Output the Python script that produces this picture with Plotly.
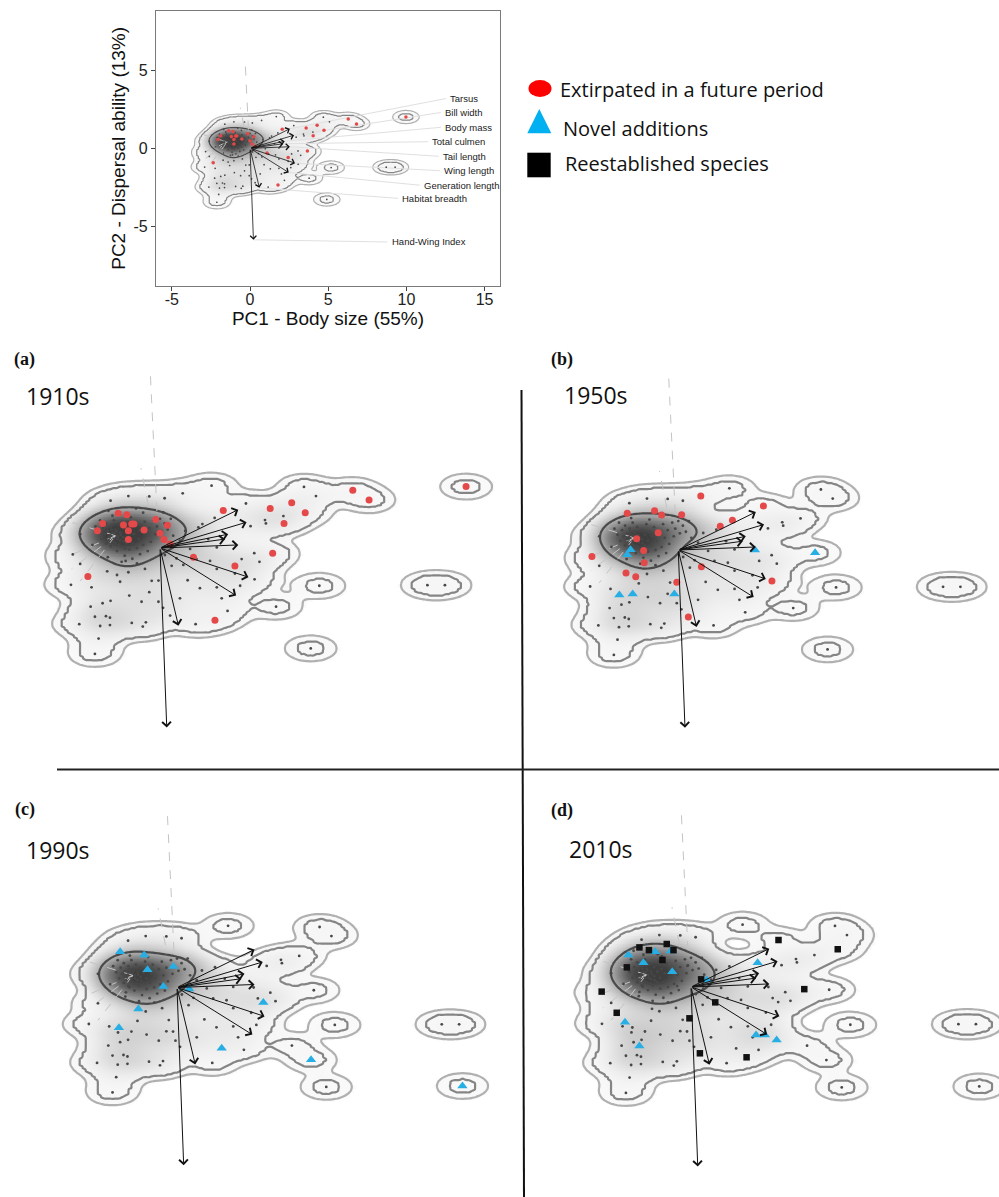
import numpy as np
import plotly.graph_objects as go

W, H = 999, 1197

# ---------------- DATA (PC1 = body size, PC2 = dispersal ability) ----------------
# dense core of species present in every decade
core_x = [-2.1,-2.0,-1.95,-1.9,-1.85,-1.8,-1.75,-1.75,-1.7,-1.65,-1.6,-1.6,-1.55,-1.5,-1.5,-1.45,-1.45,-1.4,-1.4,-1.35,
          -1.3,-1.3,-1.25,-1.2,-1.2,-1.15,-1.1,-1.1,-1.05,-1.0,-1.0,-0.95,-0.9,-0.9,-0.85,-0.8,-0.75,-0.7,-0.65,-0.6,
          -0.55,-0.5,-0.45,-0.4,-0.35,-0.3,-0.2,-0.15,-0.1,0.0,0.05,0.15,0.25,0.35,-1.7,-1.25,-0.75,-2.2,-1.55,-0.95,
          -1.62,-1.48,-1.38,-1.52,-1.28,-1.42,-1.58,-1.33,-1.68,-1.18]
core_y = [0.7,0.5,0.9,0.3,0.65,0.45,0.8,0.15,0.55,0.35,0.7,0.05,0.5,0.3,0.9,0.15,0.6,0.4,-0.1,0.75,
          0.25,0.5,0.05,0.65,0.35,-0.25,0.15,0.5,0.85,0.3,-0.05,0.6,-0.35,0.15,0.45,0.75,0.0,0.3,-0.2,0.6,
          0.1,0.85,0.4,-0.1,0.65,0.2,0.9,0.45,0.7,0.95,0.55,0.8,0.6,0.95,-0.3,-0.45,-0.5,0.1,1.05,1.0,
          0.42,0.48,0.3,0.2,0.42,0.55,0.6,0.12,0.25,0.22]
# peripheral species present in every decade
periph_x = [1.68,-1.03,-1.61,4.69,5.08,4.02,3.42,3.45,2.95,0.82,1.25,3.07,3.24,2.01,1.30,0.65,1.16,-0.27,-0.56,-1.30,
            -2.60,-2.63,-2.26,-2.12,-1.95,-1.76,-1.63,-1.63,-1.87,-2.12,1.63,2.44,0.16,0.54,1.19,0.38,1.85,2.66,2.61,1.85,
            -0.35,-2.23,-0.92,-0.46,-1.03,-0.49,5.19,3.78,4.91,8.71,9.28,-1.61,
            0.43,0.65,1.57,1.85,0.98,0.90,-0.05,-0.60,-1.00,0.10,2.20,-0.35,0.15,-2.90,-2.60,-2.00]
periph_y = [2.03,1.69,1.54,1.99,1.69,1.04,0.91,0.80,0.71,0.56,0.67,-0.17,-0.45,-1.64,-1.31,-1.64,-2.48,-1.07,-2.56,-1.10,
            -0.52,-2.48,-1.91,-2.24,-2.54,-2.22,-2.27,-2.51,-1.80,-3.45,-0.42,-0.83,-0.23,-0.34,-0.36,-0.58,-0.68,-0.36,-1.23,-1.28,
            -1.44,-1.28,-2.44,-2.42,-0.79,-0.68,-1.23,-1.91,-3.27,-1.21,-1.21,-1.72,
            0.40,0.24,0.29,0.02,-0.03,-1.05,-1.75,-1.75,-1.55,-1.95,-2.05,1.68,1.62,-1.20,0.45,-2.95]
# 1910s species extirpated before the 1950s
red1910_x = [6.28,6.81,3.59,4.29,4.73,4.04,2.06,3.67,2.44,1.09,1.79,-2.35,9.97,-1.36,-1.08,-1.87,-2.04,-1.19,-0.92,-0.85,
             -1.03,-1.03,-0.52,-0.14,0.24,0.0,0.13,0.33]
red1910_y = [1.88,1.56,1.29,1.47,1.15,0.80,1.22,-0.17,-0.59,-0.30,-2.35,-0.93,2.00,1.13,1.08,0.80,0.56,0.75,0.78,0.78,
             0.56,0.28,0.59,0.93,0.74,0.48,0.28,0.13]
# present until the 1950s, extirpated before the 1990s
red1950_x = [0.74,2.80,1.78,1.38,3.08,0.76,-0.05,0.33,-2.84,-1.68,-0.78,-0.55,0.11,-0.66,-1.37,-1.14,-1.12,-1.72,-1.40]
red1950_y = [1.78,1.45,0.98,0.78,-1.02,-0.55,-1.06,-2.20,-0.21,1.21,1.29,1.15,1.16,0.57,0.37,-0.02,-0.42,-0.76,-0.88]
# novel additions
blue1950_x = [-1.57,-1.68,-1.94,-1.50,-0.13,2.52,4.50]
blue1950_y = [0.01,-0.16,-1.48,-1.45,-1.45,0.00,-0.09]
blue1990_x = [-1.87,-1.08,-0.97,-0.12,-0.45,0.40,-1.27,-1.91,2.84,1.47,4.41,9.39]
blue1990_y = [1.18,1.07,0.58,0.69,0.03,-0.05,-0.71,-1.32,-0.49,-2.00,-2.38,-3.24]
blue2010_x = [-2.04,-1.17,-0.66,-1.55,-0.61,0.51,2.17,-2.15,-1.68,2.12,2.41,2.79]
blue2010_y = [1.04,1.15,1.17,0.79,0.50,0.23,0.79,-1.15,-1.92,-1.56,-1.56,-1.73]
# reestablished species in the 2010s
black2010_x = [2.85,4.78,3.69,0.79,-0.05,0.29,1.81,-2.91,-2.42,-2.09,-1.68,-1.37,-0.79,-0.93,-0.57,0.33]
black2010_y = [1.53,1.23,-0.07,-0.50,-1.02,-2.16,-2.29,-0.15,-0.84,0.64,1.29,1.20,1.40,0.88,1.20,0.25]

# trait loadings (arrow tips)
trait_names = ["Tarsus", "Bill width", "Body mass", "Total culmen", "Tail length", "Wing length",
               "Generation length", "Habitat breadth", "Hand-Wing Index"]
trait_x = [2.55, 2.82, 2.22, 2.12, 2.55, 2.88, 2.48, 0.60, 0.22]
trait_y = [1.25, 0.84, 0.45, 0.29, 0.10, -0.95, -1.55, -2.53, -5.85]
label_x = [12.67, 12.35, 12.35, 11.54, 12.22, 12.29, 11.01, 9.62, 8.93]
label_y = [3.18, 2.29, 1.34, 0.42, -0.51, -1.43, -2.36, -3.20, -5.99]
# faint dashed supplementary vectors
faint_x0 = [-0.10, -0.38, -1.45, -1.45, -1.45, -1.45]
faint_y0 = [1.20, 1.40, 0.40, 0.40, 0.40, 0.40]
faint_x1 = [-0.32, -0.62, -2.95, -2.84, -2.88, -2.60]
faint_y1 = [5.78, 2.60, 0.86, -0.20, -0.68, -1.08]

decades = ["1910s", "1950s", "1990s", "2010s"]
panel_tags = ["(a)", "(b)", "(c)", "(d)"]
legend_labels = ["Extirpated in a future period", "Novel additions", "Reestablished species"]
x_tick_vals = [-5, 0, 5, 10, 15]
y_tick_vals = [-5, 0, 5]
x_title = "PC1 - Body size (55%)"
y_title = "PC2 - Dispersal ability (13%)"

# ---------------- species sets per decade ----------------
def cat(*lists):
    out = []
    for l in lists:
        out += list(l)
    return out

sets = {
    "1910s": dict(gx=cat(core_x, periph_x, red1950_x, red1910_x), gy=cat(core_y, periph_y, red1950_y, red1910_y),
                  red=(red1910_x, red1910_y), blue=([], []), black=([], [])),
    "1950s": dict(gx=cat(core_x, periph_x, red1950_x, blue1950_x), gy=cat(core_y, periph_y, red1950_y, blue1950_y),
                  red=(red1950_x, red1950_y), blue=(blue1950_x, blue1950_y), black=([], [])),
    "1990s": dict(gx=cat(core_x, periph_x, blue1950_x, blue1990_x), gy=cat(core_y, periph_y, blue1950_y, blue1990_y),
                  red=([], []), blue=(blue1990_x, blue1990_y), black=([], [])),
    "2010s": dict(gx=cat(core_x, periph_x, blue1950_x, blue1990_x, blue2010_x, black2010_x),
                  gy=cat(core_y, periph_y, blue1950_y, blue1990_y, blue2010_y, black2010_y),
                  red=([], []), blue=(blue2010_x, blue2010_y), black=(black2010_x, black2010_y)),
}

# ---------------- density estimation ----------------
gxv = np.arange(-4.6, 11.6, 0.1)
gyv = np.arange(-4.4, 3.25, 0.05)
GX, GY = np.meshgrid(gxv, gyv)

def kde(xs, ys, hx, hy):
    d = np.zeros_like(GX)
    for a, b in zip(xs, ys):
        d += np.exp(-0.5 * ((GX - a) / hx) ** 2 - 0.5 * ((GY - b) / hy) ** 2)
    return d

HX, HY = 0.5, 0.25
L1, L2 = 0.236, 0.63
L3W = 9.0
SHADE_MAX = 38.0
shade_anchor_v = [-0.5, 0.0, 2.0, 4.0, 7.0, 12.0, 20.0, 28.0, 38.0]
shade_anchor_c = ['#ffffff', '#fbfbfb', '#f5f5f5', '#ebebeb', '#d6d6d6', '#b3b3b3', '#848484', '#5c5c5c', '#3e3e3e']
shade_cs = [[(v + 0.5) / (SHADE_MAX + 0.5), c] for v, c in zip(shade_anchor_v, shade_anchor_c)]

fig = go.Figure()

# panel geometry: (left, top, right, bottom) in px, origin px, px per unit
panels = [
    dict(ax=1, box=(156, 10.7, 500, 286), origin=(250, 148.3), s=15.64, dec="1910s", top=True),
    dict(ax=2, box=(0, 360, 500, 765), origin=(160, 548), s=30.7, dec="1910s", top=False),
    dict(ax=3, box=(525, 360, 999, 765), origin=(678.3, 550), s=30.4, dec="1950s", top=False),
    dict(ax=4, box=(0, 775, 519, 1197), origin=(177, 987.5), s=30.4, dec="1990s", top=False),
    dict(ax=5, box=(527, 775, 999, 1197), origin=(691, 987), s=30.7, dec="2010s", top=False),
]

annotations = []
shapes = []
layout_axes = {}

for p in panels:
    i = p["ax"]
    xa = "x" if i == 1 else f"x{i}"
    ya = "y" if i == 1 else f"y{i}"
    xname = "xaxis" if i == 1 else f"xaxis{i}"
    yname = "yaxis" if i == 1 else f"yaxis{i}"
    l, t, r, b = p["box"]
    ox, oy = p["origin"]
    s = p["s"]
    xr = [(l - ox) / s, (r - ox) / s]
    yr = [(oy - b) / s, (oy - t) / s]
    dom_x = [l / W, r / W]
    dom_y = [1 - b / H, 1 - t / H]
    k = 0.5 if p["top"] else 1.0
    lw = 1.2 if p["top"] else 2.2
    d = sets[p["dec"]]

    dens = kde(d["gx"], d["gy"], HX, HY)
    mid = kde(d["gx"], d["gy"], 0.6, 0.3)
    wide = kde(d["gx"], d["gy"], 0.7, 0.35)
    zshade = np.where(dens >= L1 * 0.85, wide, -0.5)
    zt = np.interp(dens, [0, L1, L2, L2 * 20], [0, 1, 2, 3])

    fig.add_trace(go.Heatmap(x=gxv, y=gyv, z=np.round(zshade, 2), zmin=-0.5, zmax=SHADE_MAX,
                             colorscale=shade_cs, zsmooth='best', showscale=False, hoverinfo='skip',
                             xaxis=xa, yaxis=ya))
    fig.add_trace(go.Contour(x=gxv, y=gyv, z=np.round(zt, 3), zmin=1, zmax=2,
                             contours=dict(start=1, end=2, size=1, coloring='lines'),
                             colorscale=[[0, '#b0b0b0'], [1, '#858585']],
                             line=dict(width=lw, smoothing=1.0),
                             showscale=False, hoverinfo='skip', xaxis=xa, yaxis=ya))
    fig.add_trace(go.Contour(x=gxv, y=gyv, z=np.round(mid, 2),
                             contours=dict(start=L3W, end=L3W, size=1, coloring='none'),
                             line=dict(width=lw, color='#4a4a4a', smoothing=1.0),
                             showscale=False, hoverinfo='skip', xaxis=xa, yaxis=ya))
    # faint dashed vectors
    fx, fy = [], []
    for a0, b0, a1, b1 in zip(faint_x0, faint_y0, faint_x1, faint_y1):
        fx += [a0, a1, None]
        fy += [b0, b1, None]
    fig.add_trace(go.Scatter(x=fx, y=fy, mode='lines', line=dict(color='#c4c4c4', width=1, dash='dash'),
                             hoverinfo='skip', xaxis=xa, yaxis=ya))
    if p["top"]:
        lx, ly = [], []
        for tx, ty, nx, ny in zip(trait_x, trait_y, label_x, label_y):
            lx += [tx, nx - 0.15, None]
            ly += [ty, ny, None]
        fig.add_trace(go.Scatter(x=lx, y=ly, mode='lines', line=dict(color='#e0e0e0', width=1),
                                 hoverinfo='skip', xaxis=xa, yaxis=ya))
    # species points
    fig.add_trace(go.Scatter(x=d["gx"], y=d["gy"], mode='markers',
                             marker=dict(size=2.2 * k + 0.6, color='#474747'), hoverinfo='skip',
                             xaxis=xa, yaxis=ya))
    fig.add_trace(go.Scatter(x=d["red"][0], y=d["red"][1], mode='markers',
                             marker=dict(size=7 * k, color='#e54848'), hoverinfo='skip', xaxis=xa, yaxis=ya))
    fig.add_trace(go.Scatter(x=d["blue"][0], y=d["blue"][1], mode='markers',
                             marker=dict(size=9 * k, color='#27aee4', symbol='triangle-up'), hoverinfo='skip',
                             xaxis=xa, yaxis=ya))
    fig.add_trace(go.Scatter(x=d["black"][0], y=d["black"][1], mode='markers',
                             marker=dict(size=6.5 * k, color='#111111', symbol='square'), hoverinfo='skip',
                             xaxis=xa, yaxis=ya))
    # loading arrows
    for tx, ty in zip(trait_x, trait_y):
        annotations.append(dict(x=tx, y=ty, ax=0, ay=0, xref=xa, yref=ya, axref=xa, ayref=ya,
                                text='', showarrow=True, arrowhead=4, arrowsize=1.5 if p["top"] else 1.7,
                                arrowwidth=0.8 if p["top"] else 1.0, arrowcolor='#111111', standoff=0))
    if p["top"]:
        for nm, nx, ny in zip(trait_names, label_x, label_y):
            annotations.append(dict(x=nx, y=ny, xref=xa, yref=ya, text=nm, showarrow=False, xanchor='left',
                                    yanchor='middle', font=dict(family='Liberation Sans', size=9.5, color='#222')))
        layout_axes[xname] = dict(domain=dom_x, range=xr, anchor=ya, tickvals=x_tick_vals,
                                  ticktext=[str(v) for v in x_tick_vals], ticks='outside', ticklen=4,
                                  tickcolor='#444', showline=True, mirror=True, linecolor='#7a7a7a', linewidth=1.3,
                                  showgrid=False, zeroline=False, ticklabelstandoff=-5,
                                  tickfont=dict(family='Liberation Sans', size=16, color='#222'),
                                  title=dict(text=x_title, standoff=0,
                                             font=dict(family='Liberation Sans', size=19, color='#111')))
        layout_axes[yname] = dict(domain=dom_y, range=yr, anchor=xa, tickvals=y_tick_vals,
                                  ticktext=[str(v) for v in y_tick_vals], ticks='outside', ticklen=4,
                                  tickcolor='#444', showline=True, mirror=True, linecolor='#7a7a7a', linewidth=1.3,
                                  showgrid=False, zeroline=False,
                                  tickfont=dict(family='Liberation Sans', size=16, color='#222'),
                                  title=dict(text=y_title, standoff=2,
                                             font=dict(family='Liberation Sans', size=19, color='#111')))
    else:
        layout_axes[xname] = dict(domain=dom_x, range=xr, anchor=ya, visible=False)
        layout_axes[yname] = dict(domain=dom_y, range=yr, anchor=xa, visible=False)

def P(x, y):
    return x / W, 1 - y / H

# panel tags and decade labels
tag_pos = [(11.5, 359.5), (549, 359.5), (13, 809.5), (549, 810)]
dec_pos = [(24, 396), (562, 395), (24, 849.5), (567, 849)]
for tag, dec, tp, dp in zip(panel_tags, decades, tag_pos, dec_pos):
    x, y = P(*tp)
    annotations.append(dict(x=x, y=y, xref='paper', yref='paper', text=f"<b>{tag}</b>", showarrow=False,
                            xanchor='left', yanchor='middle',
                            font=dict(family='Liberation Serif', size=18, color='#111')))
    x, y = P(*dp)
    annotations.append(dict(x=x, y=y, xref='paper', yref='paper', text=dec, showarrow=False,
                            xanchor='left', yanchor='middle', font=dict(family='Open Sans', size=23, color='#111')))

# legend
leg_text_pos = [(558, 89), (561, 128.5), (563, 163.5)]
for txt, pos in zip(legend_labels, leg_text_pos):
    x, y = P(*pos)
    annotations.append(dict(x=x, y=y, xref='paper', yref='paper', text=txt, showarrow=False,
                            xanchor='left', yanchor='middle', font=dict(family='Open Sans', size=20, color='#111')))
cx0, cy0 = P(528.5, 80)
cx1, cy1 = P(551.5, 97)
shapes.append(dict(type='circle', xref='paper', yref='paper', x0=cx0, y0=cy1, x1=cx1, y1=cy0,
                   fillcolor='#ff0000', line=dict(width=0)))
t1, t2, t3 = P(539.3, 109), P(527.3, 133.3), P(551.3, 133.3)
shapes.append(dict(type='path', xref='paper', yref='paper',
                   path=f"M{t1[0]},{t1[1]} L{t2[0]},{t2[1]} L{t3[0]},{t3[1]} Z",
                   fillcolor='#00b0f0', line=dict(width=0)))
s0, s1 = P(527.3, 152.7), P(550.7, 177.3)
shapes.append(dict(type='rect', xref='paper', yref='paper', x0=s0[0], y0=s1[1], x1=s1[0], y1=s0[1],
                   fillcolor='#000000', line=dict(width=0)))

# divider lines
v0, v1 = P(521.5, 390), P(524, 1197)
shapes.append(dict(type='line', xref='paper', yref='paper', x0=v0[0], y0=v0[1], x1=v1[0], y1=v1[1],
                   line=dict(color='#111', width=2)))
h0, h1 = P(57, 769.5), P(999, 769.5)
shapes.append(dict(type='line', xref='paper', yref='paper', x0=h0[0], y0=h0[1], x1=h1[0], y1=h1[1],
                   line=dict(color='#222', width=2)))

fig.update_layout(width=W, height=H, margin=dict(l=0, r=0, t=0, b=0), showlegend=False,
                  plot_bgcolor='white', paper_bgcolor='white', annotations=annotations, shapes=shapes,
                  **layout_axes)

fig.write_html("out.html", config={"displayModeBar": False},
               post_script="document.body.style.margin='0px';")
